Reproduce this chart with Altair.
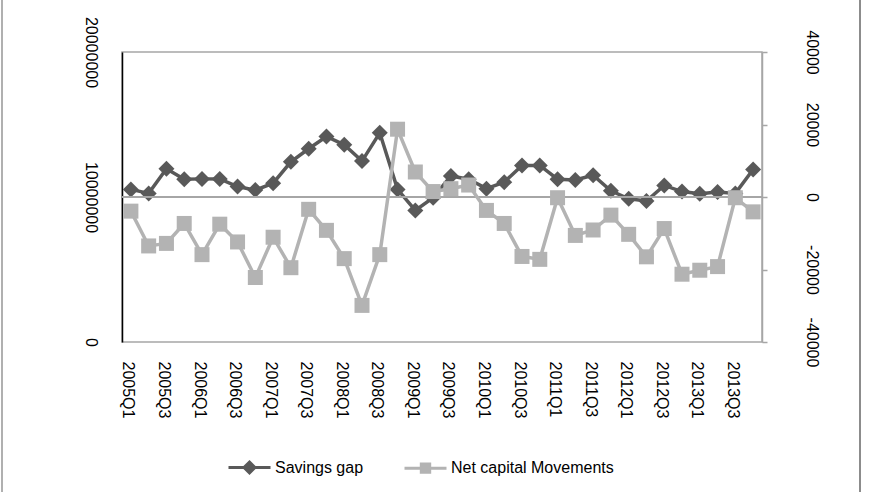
import altair as alt
import pandas as pd

quarters = [
    "2005Q1", "2005Q2", "2005Q3", "2005Q4", "2006Q1", "2006Q2", "2006Q3", "2006Q4",
    "2007Q1", "2007Q2", "2007Q3", "2007Q4", "2008Q1", "2008Q2", "2008Q3", "2008Q4",
    "2009Q1", "2009Q2", "2009Q3", "2009Q4", "2010Q1", "2010Q2", "2010Q3", "2010Q4",
    "2011Q1", "2011Q2", "2011Q3", "2011Q4", "2012Q1", "2012Q2", "2012Q3", "2012Q4",
    "2013Q1", "2013Q2", "2013Q3", "2013Q4",
]
tick_quarters = quarters[::2]

# Savings gap (left axis, 0 - 20 000 000)
savings_gap = [
    10525000, 10250000, 11950000, 11225000, 11250000, 11250000, 10725000, 10475000,
    10950000, 12425000, 13325000, 14175000, 13600000, 12475000, 14425000, 10525000,
    9075000, 9950000, 11450000, 11225000, 10575000, 11025000, 12175000, 12175000,
    11225000, 11175000, 11500000, 10425000, 9875000, 9725000, 10800000, 10375000,
    10225000, 10350000, 10250000, 11900000,
]
# Net capital movements (right axis, -40 000 - 40 000)
net_capital = [
    -3900, -13500, -12800, -7300, -15900, -7500, -12400, -22200,
    -11100, -19500, -3400, -9200, -17000, -29900, -15900, 18700,
    6900, 1500, 2300, 3300, -3700, -7300, -16400, -17200,
    -200, -10600, -9100, -5000, -10300, -16500, -8700, -21300,
    -20200, -19200, -200, -4100,
]
series_names = ["Savings gap", "Net capital Movements"]
left_ticks = [0, 10000000, 20000000]
right_ticks = [-40000, -20000, 0, 20000, 40000]
zero_line = [0]

colors = ["#595959", "#b3b3b3"]
legend_shapes = [
    "M-1,0L1,0M0,-0.26L0.26,0L0,0.26L-0.26,0ZM0,-0.1L0.1,0L0,0.1L-0.1,0Z",
    "M-1,0L1,0M-0.2,-0.2L0.2,-0.2L0.2,0.2L-0.2,0.2ZM-0.08,-0.08L0.08,-0.08L0.08,0.08L-0.08,0.08Z",
]
grey = "#a6a6a6"
FONT = "Liberation Sans"

df_s = pd.DataFrame({"quarter": quarters, "series": series_names[0], "value": savings_gap})
df_n = pd.DataFrame({"quarter": quarters, "series": series_names[1], "value": net_capital})
df_zero = pd.DataFrame({"value": zero_line})
df_legend = pd.DataFrame({"series": series_names})

x_enc = alt.X(
    "quarter:N", sort=quarters,
    scale=alt.Scale(type="point", padding=0.5),
    axis=alt.Axis(
        values=tick_quarters, labelAngle=90, labelAlign="left", labelBaseline="middle",
        labelPadding=19, ticks=False, tickSize=0, domain=False, grid=False, title=None,
        labelFontSize=16, labelFont=FONT, labelColor="black", labelOverlap=False,
        labelOffset=-3,
    ),
)

y_left = alt.Y(
    "value:Q",
    scale=alt.Scale(domain=[0, 20000000], nice=False, zero=False),
    axis=alt.Axis(
        orient="left", values=left_ticks, labelExpr="toString(datum.value)",
        labelAngle=90, labelAlign="center",
        labelBaseline="top", labelPadding=24, ticks=False, tickSize=0,
        domainColor="black", domainWidth=1.5, grid=False, title=None,
        labelFontSize=16, labelFont=FONT, labelColor="black", labelOverlap=False,
    ),
)

y_right = alt.Y(
    "value:Q",
    scale=alt.Scale(domain=[-40000, 40000], nice=False, zero=False),
    axis=alt.Axis(
        orient="right", values=right_ticks, labelExpr="toString(datum.value)",
        labelAngle=90, labelAlign="center",
        labelBaseline="bottom", labelPadding=36, ticks=True, tickSize=5, tickColor=grey,
        tickWidth=1.5, domainColor=grey, domainWidth=1.5, grid=False, title=None,
        labelFontSize=16, labelFont=FONT, labelColor="black", labelOverlap=False,
    ),
)

sav_line = alt.Chart(df_s).mark_line(strokeWidth=3.5, color=colors[0]).encode(x=x_enc, y=y_left)
sav_pts = alt.Chart(df_s).mark_point(
    shape="diamond", filled=True, size=256, opacity=1, color=colors[0], strokeWidth=0
).encode(x=x_enc, y=y_left)
sav_layer = alt.layer(sav_line, sav_pts)

zero_rule = alt.Chart(df_zero).mark_rule(color=grey, strokeWidth=2).encode(y=y_right)
net_line = alt.Chart(df_n).mark_line(strokeWidth=3.5, color=colors[1]).encode(x=x_enc, y=y_right)
net_pts = alt.Chart(df_n).mark_point(
    shape="square", filled=True, size=225, opacity=1, color=colors[1], strokeWidth=0
).encode(x=x_enc, y=y_right)
net_layer = alt.layer(zero_rule, net_line, net_pts)

legend_props = dict(
    title=None, orient="none", legendX=105, legendY=393, direction="horizontal",
    symbolSize=1764, symbolStrokeWidth=3, labelFontSize=16, labelFont=FONT,
    labelColor="black", labelOffset=3, columnPadding=34, symbolOpacity=1, labelLimit=0,
)

# legend-only layer (draws nothing; legend comes from the explicit scale domains)
legend_layer = alt.Chart(df_legend).transform_filter("false").mark_point(
    filled=False, strokeWidth=3, opacity=1, size=1764
).encode(
    color=alt.Color(
        "series:N", scale=alt.Scale(domain=series_names, range=colors),
        legend=alt.Legend(**legend_props),
    ),
    shape=alt.Shape(
        "series:N", scale=alt.Scale(domain=series_names, range=legend_shapes),
        legend=alt.Legend(**legend_props),
    ),
)

border_df = pd.DataFrame({"side": ["edge"]})
border_left = alt.Chart(border_df).mark_rule(color="#b0b0b0", strokeWidth=2).encode(
    x=alt.value(-120), y=alt.value(-52), y2=alt.value(445)
)
border_right = alt.Chart(border_df).mark_rule(color="#8c8c8c", strokeWidth=2).encode(
    x=alt.value(738), y=alt.value(-52), y2=alt.value(445)
)

chart = (
    alt.layer(sav_layer, net_layer, legend_layer, border_left, border_right)
    .resolve_scale(y="independent")
    .properties(
        width=640, height=290,
        autosize=alt.AutoSizeParams(type="none"),
        padding={"left": 122, "top": 52, "right": 108, "bottom": 150},
        background="white",
    )
    .configure_view(stroke=grey, strokeWidth=1.5)
)

chart.save("out.html", embed_options={"renderer": "svg", "actions": False})
